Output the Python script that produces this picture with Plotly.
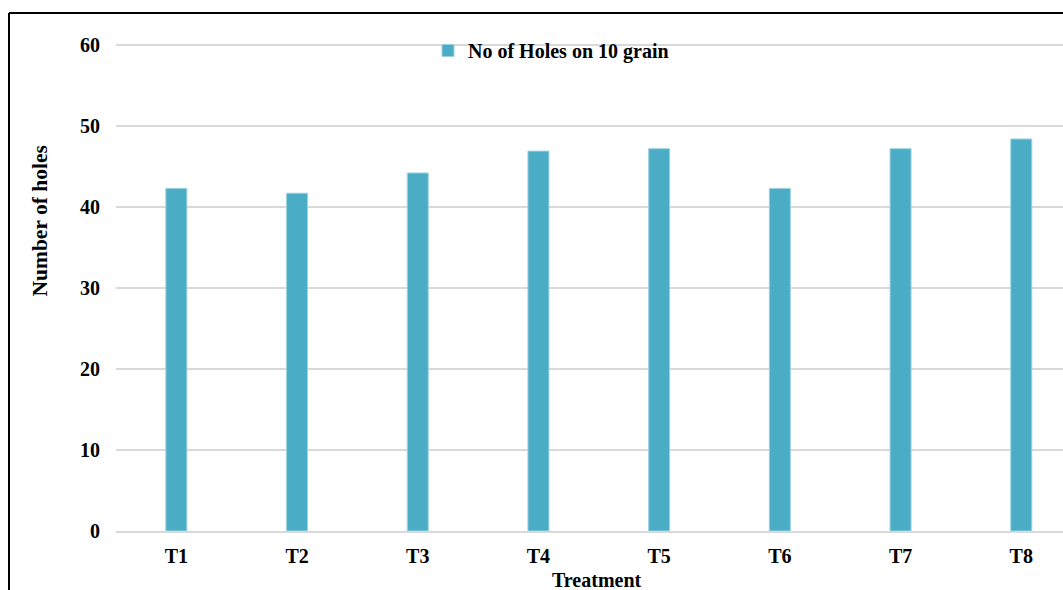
import plotly.graph_objects as go

# Treatment groups and mean hole counts per 10 grains
treatments = ["T1", "T2", "T3", "T4", "T5", "T6", "T7", "T8"]
holes = [42.3, 41.7, 44.2, 46.9, 47.2, 42.3, 47.2, 48.4]
series_name = "No of Holes on 10 grain"
y_ticks = [0, 10, 20, 30, 40, 50, 60]

W, H = 1063, 590
ML, MR, MT, MB = 116, 0, 42, 59
plot_w = W - ML - MR
plot_h = H - MT - MB
# a little headroom above 60 so its gridline is drawn
y_top = 60 * plot_h / (plot_h - 3)


def px_x(p):
    return (p - ML) / plot_w


def px_y(p):
    return (H - MB - p) / plot_h


FONT = "Liberation Serif"
BAR = "#4BACC6"
GRID = "#D9D9D9"

fig = go.Figure()
fig.add_trace(go.Bar(
    x=treatments,
    y=holes,
    name=series_name,
    width=0.174,
    marker=dict(color=BAR, line=dict(color="#9ED2E0", width=1)),
    showlegend=True,
))

fig.update_layout(
    width=W,
    height=H,
    margin=dict(l=ML, r=MR, t=MT, b=MB, pad=0),
    paper_bgcolor="white",
    plot_bgcolor="white",
    font=dict(family=FONT, size=20, color="black"),
    showlegend=True,
    legend=dict(
        x=px_x(428), y=px_y(31), xanchor="left", yanchor="top",
        bgcolor="rgba(0,0,0,0)",
        font=dict(family=FONT, size=20, color="black", weight="bold"),
        itemclick=False,
    ),
    xaxis=dict(
        range=[-0.5, -0.5 + plot_w / 120.7],
        showgrid=False,
        showline=True,
        linecolor=GRID,
        linewidth=1.5,
        ticks="",
        tickfont=dict(family=FONT, size=20, color="black", weight="bold"),
        ticklabelstandoff=6,
        fixedrange=True,
    ),
    yaxis=dict(
        range=[0, y_top],
        tickvals=y_ticks,
        showgrid=True,
        gridcolor=GRID,
        gridwidth=1.5,
        zeroline=False,
        showline=False,
        ticks="",
        tickfont=dict(family=FONT, size=20, color="black", weight="bold"),
        ticklabelstandoff=15,
        fixedrange=True,
    ),
    annotations=[
        dict(
            text="Number of holes", textangle=-90,
            xref="paper", yref="paper", x=px_x(40), y=px_y(221.5),
            xanchor="center", yanchor="middle", showarrow=False,
            font=dict(family=FONT, size=21.5, color="black", weight="bold"),
        ),
        dict(
            text="Treatment",
            xref="paper", yref="paper", x=px_x(597), y=px_y(580),
            xanchor="center", yanchor="middle", showarrow=False,
            font=dict(family=FONT, size=20, color="black", weight="bold"),
        ),
    ],
    shapes=[
        # outer chart frame (top and left edges)
        dict(type="line", xref="paper", yref="paper",
             x0=px_x(9), x1=px_x(W + 10), y0=px_y(13), y1=px_y(13),
             line=dict(color="black", width=2)),
        dict(type="line", xref="paper", yref="paper",
             x0=px_x(9), x1=px_x(9), y0=px_y(13), y1=px_y(H + 10),
             line=dict(color="black", width=2)),
    ],
)

fig.write_html("out.html")
